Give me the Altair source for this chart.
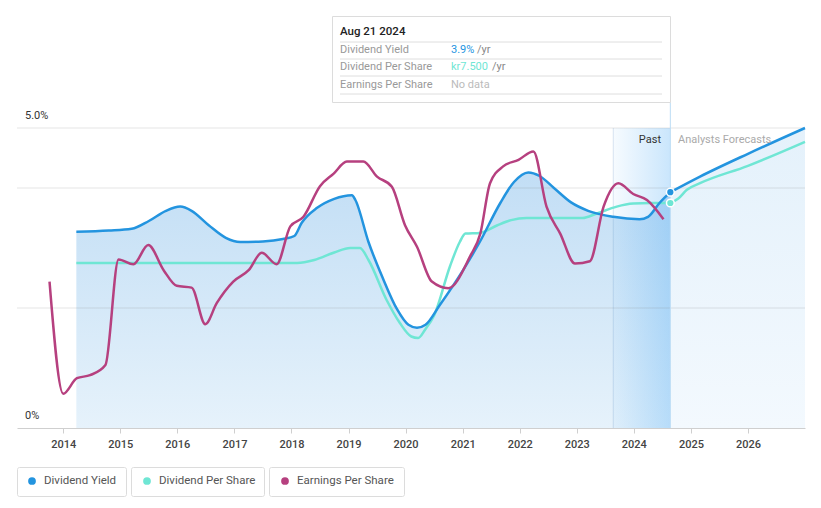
import altair as alt
import pandas as pd

FONT = "Roboto"

# ---------------- data ----------------
# Dividend yield (%), history
dy_years = [2014.23, 2014.8, 2015.2, 2015.5, 2015.8, 2016.05, 2016.25, 2016.55, 2016.85,
            2017.1, 2017.5, 2017.85, 2018.05, 2018.18, 2018.45, 2018.75, 2019.06, 2019.12,
            2019.35, 2019.6, 2019.85, 2020.05, 2020.2, 2020.35, 2020.6, 2021.0, 2021.3,
            2021.66, 2021.9, 2022.15, 2022.35, 2022.6, 2022.9, 2023.2, 2023.64, 2024.1,
            2024.25, 2024.45, 2024.64]
dy_values = [3.27, 3.29, 3.32, 3.45, 3.62, 3.69, 3.62, 3.38, 3.17,
             3.10, 3.11, 3.15, 3.20, 3.42, 3.67, 3.82, 3.88, 3.80,
             3.10, 2.50, 1.98, 1.72, 1.67, 1.72, 2.05, 2.62, 3.10,
             3.75, 4.10, 4.26, 4.20, 4.00, 3.76, 3.62, 3.52, 3.48,
             3.52, 3.75, 3.93]
# Dividend yield (%), analyst forecast
dyf_years = [2024.64, 2025.16, 2026.0, 2027.0]
dyf_values = [3.93, 4.19, 4.57, 5.00]

# Dividend per share (kr), history
dps_years = [2014.23, 2018.1, 2018.4, 2018.75, 2019.03, 2019.2, 2019.35, 2019.67, 2019.9,
             2020.1, 2020.22, 2020.35, 2020.5, 2020.78, 2020.95, 2021.05, 2021.3, 2021.6,
             2021.85, 2022.12, 2023.1, 2023.35, 2023.7, 2023.99, 2024.3, 2024.64]
dps_kr = [5.5, 5.5, 5.6, 5.85, 6.0, 6.0, 5.6, 4.26, 3.5,
          3.05, 3.0, 3.3, 3.75, 5.4, 6.2, 6.48, 6.5, 6.75,
          6.93, 7.0, 7.0, 7.15, 7.38, 7.48, 7.5, 7.5]
# Dividend per share (kr), analyst forecast
dpsf_years = [2024.64, 2024.78, 2024.93, 2025.16, 2026.0, 2027.0]
dpsf_kr = [7.5, 7.65, 7.94, 8.16, 8.74, 9.54]
KR_PER_PCT = 2.0  # chart places kr 2.0 at the 1% level

# Earnings per share (indexed to the chart's scale)
eps_years = [2013.76, 2014.0, 2014.24, 2014.47, 2014.74, 2014.97, 2015.23, 2015.49, 2015.76,
             2015.99, 2016.25, 2016.49, 2016.69, 2016.98, 2017.25, 2017.48, 2017.74, 2017.98,
             2018.21, 2018.5, 2018.74, 2018.97, 2019.26, 2019.5, 2019.76, 2019.99, 2020.2,
             2020.46, 2020.75, 2021.13, 2021.31, 2021.48, 2021.71, 2021.98, 2022.24, 2022.47,
             2022.71, 2022.97, 2023.23, 2023.47, 2023.73, 2023.99, 2024.23, 2024.52]
eps_values = [2.44, 0.57, 0.83, 0.88, 1.05, 2.81, 2.73, 3.05, 2.63,
              2.37, 2.34, 1.73, 2.08, 2.44, 2.63, 2.92, 2.73, 3.36,
              3.52, 4.03, 4.24, 4.44, 4.44, 4.19, 4.02, 3.38, 3.02,
              2.44, 2.33, 2.86, 3.24, 4.08, 4.36, 4.47, 4.61, 3.69,
              3.24, 2.74, 2.78, 3.69, 4.08, 3.90, 3.80, 3.48]

year_ticks = list(range(2014, 2027))
grid_levels = [2, 4, 5]
past_start, today = 2023.64, 2024.64

BLUE = "#2394df"
TEAL = "#6fe6d4"
MAGENTA = "#b6407f"

W, H = 788, 418
X_DOMAIN = [2013.19, 2027.0]
Y_DOMAIN = [0, H / 60.0]

xs = alt.Scale(domain=X_DOMAIN, nice=False, zero=False)
ys = alt.Scale(domain=Y_DOMAIN, nice=False, zero=True)
xaxis = alt.Axis(values=year_ticks, format="d", title=None, grid=False,
                 labelFont=FONT, labelFontSize=11, labelColor="#444",
                 labelFontWeight=500, tickColor="#cfcfcf", tickSize=5,
                 domainColor="#cfcfcf", labelPadding=5)


def X(field="year", **kw):
    return alt.X(f"{field}:Q", scale=xs, axis=xaxis, **kw)


def Y(field="v"):
    return alt.Y(f"{field}:Q", scale=ys, axis=None)


dy = pd.DataFrame({"year": dy_years, "v": dy_values})
dyf = pd.DataFrame({"year": dyf_years, "v": dyf_values})
dps = pd.DataFrame({"year": dps_years, "kr": dps_kr})
dpsf = pd.DataFrame({"year": dpsf_years, "kr": dpsf_kr})
eps = pd.DataFrame({"year": eps_years, "v": eps_values})
grid = pd.DataFrame({"v": grid_levels})
band = pd.DataFrame({"year": [past_start], "year2": [today], "v": [0], "v2": [5]})
now = pd.DataFrame({"year": [today], "v": [0], "v2": [H / 60.0 - 92 / 60.0]})
one = pd.DataFrame({"k": [0]})

past_fill = alt.Gradient(gradient="linear", x1=0, y1=0, x2=0, y2=1,
                         stops=[alt.GradientStop(color="#c2def5", offset=0),
                                alt.GradientStop(color="#e6f2fb", offset=1)])
fc_fill = alt.Gradient(gradient="linear", x1=0, y1=0, x2=0, y2=1,
                       stops=[alt.GradientStop(color="#e4f1fb", offset=0),
                              alt.GradientStop(color="#f3f9fe", offset=1)])
band_fill = alt.Gradient(gradient="linear", x1=0, y1=0, x2=1, y2=0,
                         stops=[alt.GradientStop(color="rgba(33,150,243,0.04)", offset=0),
                                alt.GradientStop(color="rgba(33,150,243,0.24)", offset=1)])

area_past = alt.Chart(dy).mark_area(interpolate="monotone", color=past_fill).encode(x=X(), y=Y())
area_fc = alt.Chart(dyf).mark_area(interpolate="monotone", color=fc_fill).encode(x=X(), y=Y())

band_rect = alt.Chart(band).mark_rect(color=band_fill).encode(
    x=X(), x2="year2:Q", y=Y(), y2="v2:Q")
band_edge = alt.Chart(band).mark_rule(color="rgba(90,140,190,0.22)", strokeWidth=1).encode(
    x=X(), y=Y(), y2="v2:Q")

grid_rules = alt.Chart(grid).mark_rule(color="rgba(120,120,120,0.2)", strokeWidth=1).encode(
    y=Y(), x=alt.value(0), x2=alt.value(W))

now_rule = alt.Chart(now).mark_rule(color="#bcdcf5", strokeWidth=1).encode(
    x=X(), y=Y(), y2="v2:Q")

line_dy = alt.Chart(dy).mark_line(interpolate="monotone", color=BLUE, strokeWidth=2.5).encode(x=X(), y=Y())
line_dyf = alt.Chart(dyf).mark_line(interpolate="monotone", color=BLUE, strokeWidth=2.5).encode(x=X(), y=Y())
line_dps = alt.Chart(dps).transform_calculate(v=f"datum.kr / {KR_PER_PCT}").mark_line(
    interpolate="monotone", color=TEAL, strokeWidth=2.5).encode(x=X(), y=Y())
line_dpsf = alt.Chart(dpsf).transform_calculate(v=f"datum.kr / {KR_PER_PCT}").mark_line(
    interpolate="monotone", color=TEAL, strokeWidth=2.5).encode(x=X(), y=Y())
line_eps = alt.Chart(eps).mark_line(interpolate="monotone", color=MAGENTA, strokeWidth=2.5).encode(x=X(), y=Y())

dot_dy = alt.Chart(dy.tail(1)).mark_point(filled=True, size=60, color=BLUE, stroke="white",
                                          strokeWidth=1.5, opacity=1).encode(x=X(), y=Y())
dot_dps = alt.Chart(dps.tail(1)).transform_calculate(v=f"datum.kr / {KR_PER_PCT}").mark_point(
    filled=True, size=60, color=TEAL, stroke="white", strokeWidth=1.5, opacity=1).encode(x=X(), y=Y())


def label(text, x, y, color, size=11, align="left", weight="normal"):
    return alt.Chart(one).mark_text(text=text, align=align, baseline="middle", font=FONT,
                                    fontSize=size, color=color, fontWeight=weight).encode(
        x=alt.value(x), y=alt.value(y))


def box(x0, x1, y0, y1, stroke="#dcdcdc", radius=0):
    return alt.Chart(one).mark_rect(fill="white", stroke=stroke, strokeWidth=1,
                                    cornerRadius=radius).encode(
        x=alt.value(x0), x2=alt.value(x1), y=alt.value(y0), y2=alt.value(y1))


def hline(x0, x1, y, color="#dedede"):
    return alt.Chart(one).mark_rule(color=color, strokeWidth=1).encode(
        x=alt.value(x0), x2=alt.value(x1), y=alt.value(y))


def dot(x, y, color):
    return alt.Chart(one).mark_point(filled=True, size=60, color=color, opacity=1).encode(
        x=alt.value(x), y=alt.value(y))


# tooltip box
tip = [
    box(315.5, 653.5, 6.5, 92.5),
    label("Aug 21 2024", 323, 22, "#222", 11.5, weight=500),
    hline(323, 645, 32), hline(323, 645, 49), hline(323, 645, 66), hline(323, 645, 84),
    label("Dividend Yield", 323, 40, "#999"),
    label("3.9%", 434, 40, BLUE), label("/yr", 460, 40, "#888"),
    label("Dividend Per Share", 323, 57, "#999"),
    label("kr7.500", 434, 57, TEAL), label("/yr", 475, 57, "#888"),
    label("Earnings Per Share", 323, 75, "#999"),
    label("No data", 434, 75, "#bbb"),
]

annot = [
    label("5.0%", 8, 106, "#333"),
    label("0%", 8, 406, "#333"),
    label("Past", 644, 130, "#333", align="right"),
    label("Analysts Forecasts", 661, 130, "#aaa"),
]

legend = [
    box(0.5, 109.5, 457.5, 486.5, radius=2), dot(15, 471, BLUE),
    label("Dividend Yield", 27, 471, "#555", 11.5),
    box(114.5, 247.5, 457.5, 486.5, radius=2), dot(130, 471, TEAL),
    label("Dividend Per Share", 142, 471, "#555", 11.5),
    box(252.5, 387.5, 457.5, 486.5, radius=2), dot(268, 471, MAGENTA),
    label("Earnings Per Share", 280, 471, "#555", 11.5),
]

chart = alt.layer(
    area_past, area_fc, band_rect, band_edge, grid_rules, now_rule,
    line_dps, line_dpsf, line_dy, line_dyf, line_eps, dot_dy, dot_dps,
    *tip, *annot, *legend,
).properties(
    width=W, height=H,
    padding={"left": 9, "top": 2, "right": 8, "bottom": 80},
    autosize=alt.AutoSizeParams(type="none"),
).configure(background="white").configure_view(stroke=None, strokeWidth=0)

chart.save("out.html", embed_options={"renderer": "svg", "actions": False})
